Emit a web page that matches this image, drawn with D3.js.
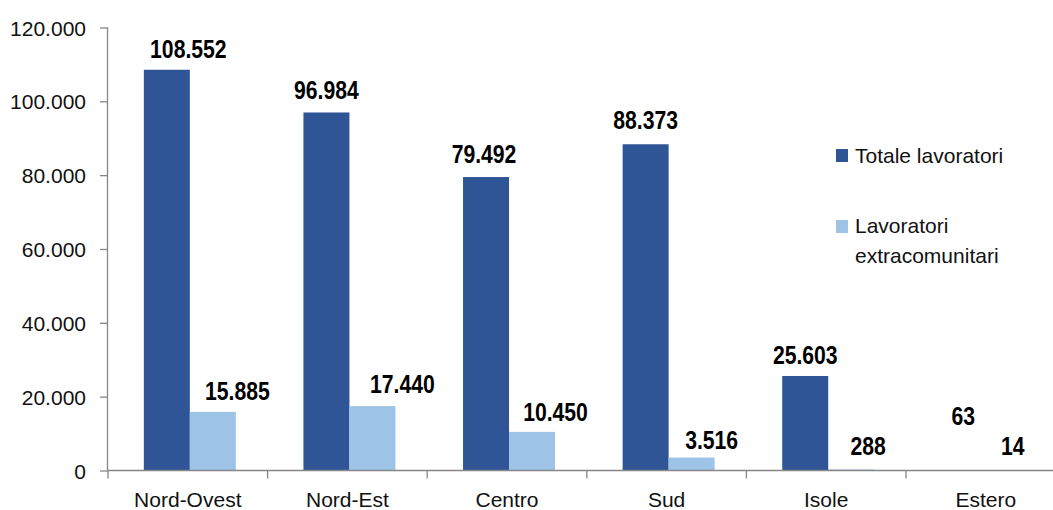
<!DOCTYPE html>
<html>
<head>
<meta charset="utf-8">
<script src="https://cdn.jsdelivr.net/npm/d3@7"></script>
<style>
  html, body { margin: 0; padding: 0; background: #fff; }
  svg { display: block; }
  text { font-family: "Liberation Sans", Arial, sans-serif; }
</style>
</head>
<body>
<svg id="chart" width="1053" height="510"></svg>
<script>
const categories = ["Nord-Ovest", "Nord-Est", "Centro", "Sud", "Isole", "Estero"];
const seriesNames = ["Totale lavoratori", "Lavoratori extracomunitari"];
const totaleLavoratori = [108552, 96984, 79492, 88373, 25603, 63];
const lavoratoriExtracomunitari = [15885, 17440, 10450, 3516, 288, 14];
const yTicks = [0, 20000, 40000, 60000, 80000, 100000, 120000];

const colors = ["#2F5597", "#9DC3E6"];
const seriesValues = [totaleLavoratori, lavoratoriExtracomunitari];

// label nudges (layout only)
const labelDx = [[21.5, 0, -2, 0, 0, -1.6], [24.5, 30, 23.5, 20, 17, 2]];
const labelDy = [[1, 0, -1, -2.5, 1, -32], [1.5, 0, 2.5, 4, -1, -2]];

const fmt = d3.formatLocale({decimal: ",", thousands: ".", grouping: [3], currency: ["€", ""]}).format(",d");

const svg = d3.select("#chart");
const x0 = d3.scaleBand().domain(categories).range([108, 1065.6]).paddingInner(0).paddingOuter(0);
const x1 = d3.scaleBand().domain(d3.range(seriesNames.length)).range([0, x0.bandwidth()])
  .paddingInner(0).paddingOuter(0.735).align(0.53);
const y = d3.scaleLinear().domain([0, 120000]).range([470.5, 27.5]);

// bars
const groups = svg.append("g").selectAll("g").data(categories).join("g")
  .attr("transform", d => `translate(${x0(d)},0)`);

seriesValues.forEach((vals, s) => {
  groups.append("rect")
    .attr("x", x1(s))
    .attr("width", x1.bandwidth())
    .attr("y", (d, i) => y(vals[i]))
    .attr("height", (d, i) => y(0) - y(vals[i]))
    .attr("fill", colors[s]);
});

// axes
const axisColor = "#868686";
const yAxis = svg.append("g").attr("transform", "translate(108,0)")
  .call(d3.axisLeft(y).tickValues(yTicks).tickSize(8).tickPadding(14).tickFormat(fmt));
yAxis.select(".domain").attr("stroke", axisColor).attr("d", `M-0.5,${y(120000)}V${y(0)}`).attr("stroke-width", 1.3);
yAxis.selectAll(".tick line").attr("stroke", axisColor).attr("stroke-width", 1.3);
yAxis.selectAll(".tick text").attr("font-size", 21).attr("fill", "#111")
  .attr("font-family", "'Liberation Sans', Arial, sans-serif").attr("dy", "0.36em");

const xAxisG = svg.append("g");
xAxisG.append("line").attr("x1", 108).attr("x2", 1066).attr("y1", y(0)).attr("y2", y(0))
  .attr("stroke", axisColor).attr("stroke-width", 1.3);
const boundaries = categories.map(c => x0(c)).concat([x0.range()[1]]);
xAxisG.selectAll("line.tk").data(boundaries).join("line").attr("class", "tk")
  .attr("x1", d => d).attr("x2", d => d).attr("y1", y(0)).attr("y2", y(0) + 8)
  .attr("stroke", axisColor).attr("stroke-width", 1.3);
xAxisG.selectAll("text").data(categories).join("text")
  .attr("x", d => x0(d) + x0.bandwidth() / 2)
  .attr("y", 507)
  .attr("text-anchor", "middle")
  .attr("font-size", 21)
  .attr("fill", "#111")
  .text(d => d);

// value labels (condensed bold)
seriesValues.forEach((vals, s) => {
  svg.append("g").selectAll("text").data(categories).join("text")
    .attr("transform", (d, i) => {
      const lx = x0(d) + x1(s) + x1.bandwidth() / 2 + labelDx[s][i];
      const ly = y(vals[i]) - 13 + labelDy[s][i];
      return `translate(${lx},${ly}) scale(0.83,1)`;
    })
    .attr("text-anchor", "middle")
    .attr("font-family", "'Liberation Sans', Arial, sans-serif")
    .attr("font-weight", "bold")
    .attr("font-size", 25.5)
    .attr("fill", "#000")
    .text((d, i) => fmt(vals[i]));
});

// legend
const legend = svg.append("g");
legend.append("rect").attr("x", 836).attr("y", 149).attr("width", 12).attr("height", 13).attr("fill", colors[0]);
legend.append("text").attr("x", 855).attr("y", 163).attr("font-size", 21).attr("fill", "#111").text(seriesNames[0]);
legend.append("rect").attr("x", 836).attr("y", 220).attr("width", 12).attr("height", 13).attr("fill", colors[1]);
const lt = legend.append("text").attr("x", 855).attr("y", 233).attr("font-size", 21).attr("fill", "#111");
lt.append("tspan").attr("x", 855).text("Lavoratori");
lt.append("tspan").attr("x", 855).attr("dy", 30).text("extracomunitari");
</script>
</body>
</html>
